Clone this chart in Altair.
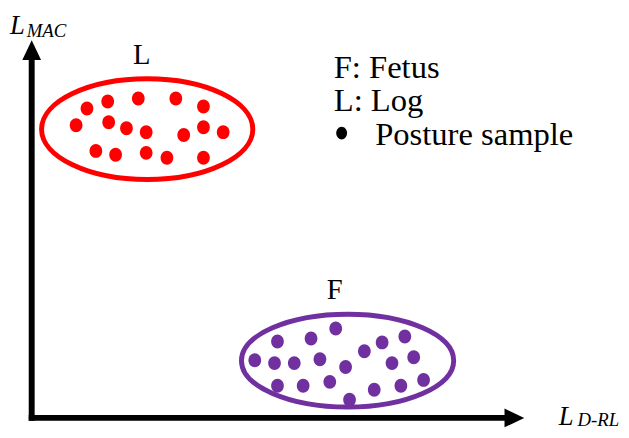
import altair as alt
import pandas as pd

# ---- data (image pixel coordinates) ----
log_x = [88, 109, 140, 178, 206, 77, 110, 128, 148, 186, 206, 226, 97, 117, 148, 169, 206]
log_y = [107, 100, 97, 97, 105, 124, 121, 127, 131, 134, 126, 131, 150, 154, 152, 157, 157]
fetus_x = [258, 281, 278, 298, 315, 340, 324, 350, 369, 387, 410, 397, 419, 281, 307, 334, 354, 379, 406, 429]
fetus_y = [362, 343, 365, 365, 340, 330, 361, 369, 353, 344, 338, 365, 359, 388, 388, 384, 402, 392, 388, 382]

cluster_names = ["L", "F"]
cluster_cx = [149, 352]
cluster_cy = [128, 362.5]
cluster_rx = [107, 107.5]
cluster_ry = [51, 47]
cluster_colors = ["#ff0000", "#7030a0"]

legend_lines = ["F: Fetus", "L: Log", "Posture sample"]

# ---- layout: 1 data unit = 1 page pixel (page has an 8px margin) ----
W, H = 621, 422
XD = [8, 8 + W]
YD = [8, 8 + H]
xs = alt.Scale(domain=XD, nice=False, zero=False)
ys = alt.Scale(domain=YD, nice=False, zero=False, reverse=True)
FONT = "Liberation Serif"


def X(f):
    return alt.X(f, type="quantitative", scale=xs, axis=None)


def Y(f):
    return alt.Y(f, type="quantitative", scale=ys, axis=None)


k = 0.5523


def ellipse_path(r):
    return (f"M -1 0 C -1 {-k*r:.4f} {-k:.4f} {-r:.4f} 0 {-r:.4f} "
            f"C {k:.4f} {-r:.4f} 1 {-k*r:.4f} 1 0 "
            f"C 1 {k*r:.4f} {k:.4f} {r:.4f} 0 {r:.4f} "
            f"C {-k:.4f} {r:.4f} -1 {k*r:.4f} -1 0 Z")


dots = pd.DataFrame({
    "x": log_x + fetus_x,
    "y": log_y + fetus_y,
    "color": [cluster_colors[0]] * len(log_x) + [cluster_colors[1]] * len(fetus_x),
})

layers = []

# cluster ellipses
for name, cx, cy, rx, ry, col in zip(cluster_names, cluster_cx, cluster_cy, cluster_rx, cluster_ry, cluster_colors):
    df = pd.DataFrame({"x": [cx], "y": [cy], "name": [name]})
    layers.append(
        alt.Chart(df).mark_point(shape=ellipse_path(ry / rx), filled=False, stroke=col,
                                 strokeWidth=5, opacity=1, size=(2 * rx) ** 2)
        .encode(x=X("x"), y=Y("y"))
    )

# posture sample dots
layers.append(
    alt.Chart(dots).mark_point(shape="M -1 0 C -1 -0.6 -0.55 -1.1 0 -1.1 C 0.55 -1.1 1 -0.6 1 0 C 1 0.6 0.55 1.1 0 1.1 C -0.55 1.1 -1 0.6 -1 0 Z",
                               filled=True, size=165, opacity=1)
    .encode(x=X("x"), y=Y("y"), color=alt.Color("color:N", scale=None))
)

# axes (shafts)
axes = pd.DataFrame({"x": [32, 29], "y": [423.5, 420.5], "x2": [32, 513], "y2": [57, 420.5]})
layers.append(
    alt.Chart(axes).mark_rule(strokeWidth=6, color="black")
    .encode(x=X("x"), y=Y("y"), x2="x2", y2="y2")
)
# arrow heads
up = pd.DataFrame({"x": [32], "y": [48]})
layers.append(
    alt.Chart(up).mark_point(shape="M 0 -1 L 0.95 1 L -0.95 1 Z", filled=True, color="black",
                             opacity=1, size=400)
    .encode(x=X("x"), y=Y("y"))
)
right = pd.DataFrame({"x": [521], "y": [420.5]})
layers.append(
    alt.Chart(right).mark_point(shape="M 1 0 L -1 -0.95 L -1 0.95 Z", filled=True, color="black",
                                opacity=1, size=400)
    .encode(x=X("x"), y=Y("y"))
)

# cluster labels
lab = pd.DataFrame({"x": [143.5, 339], "y": [62, 300], "t": cluster_names})
layers.append(
    alt.Chart(lab).mark_text(font=FONT, fontSize=29, align="center", baseline="alphabetic", color="black")
    .encode(x=X("x"), y=Y("y"), text="t:N")
)

# legend text
leg = pd.DataFrame({"x": [338, 338, 380], "y": [76, 110, 144], "t": legend_lines})
layers.append(
    alt.Chart(leg).mark_text(font=FONT, fontSize=33, align="left", baseline="alphabetic", color="black")
    .encode(x=X("x"), y=Y("y"), text="t:N")
)
bullet = pd.DataFrame({"x": [346], "y": [132]})
layers.append(
    alt.Chart(bullet).mark_point(shape="M -1 0 C -1 -0.65 -0.55 -1.18 0 -1.18 C 0.55 -1.18 1 -0.65 1 0 C 1 0.65 0.55 1.18 0 1.18 C -0.55 1.18 -1 0.65 -1 0 Z",
                                 filled=True, color="black", opacity=1, size=121)
    .encode(x=X("x"), y=Y("y"))
)

# axis titles (italic, with subscripts)
big = pd.DataFrame({"x": [10, 566], "y": [32, 428], "t": ["L", "L"]})
small = pd.DataFrame({"x": [27, 585], "y": [35, 429], "t": ["MAC", "D-RL"]})
layers.append(
    alt.Chart(big).mark_text(font=FONT, fontSize=27, fontStyle="italic", align="left",
                             baseline="alphabetic", color="black")
    .encode(x=X("x"), y=Y("y"), text="t:N")
)
layers.append(
    alt.Chart(small).mark_text(font=FONT, fontSize=19, fontStyle="italic", align="left",
                               baseline="alphabetic", color="black")
    .encode(x=X("x"), y=Y("y"), text="t:N")
)

chart = alt.layer(*layers).properties(
    width=W, height=H, padding=0,
    autosize=alt.AutoSizeParams(type="none"),
    background="white",
).configure_view(stroke=None)

chart.save("out.html", embed_options={"renderer": "svg", "actions": False})
